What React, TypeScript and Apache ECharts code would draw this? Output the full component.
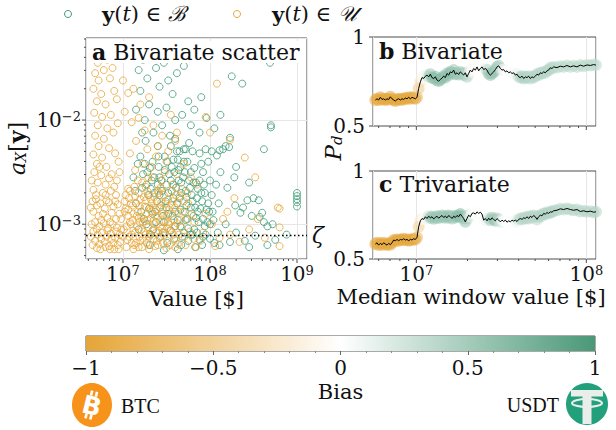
import React, { useEffect, useRef } from 'react';
import * as echarts from 'echarts';

const FONT = 'DejaVu Serif';
const INK = '#111111';
const FRAME = '#4d4d4d';
const GRIDLINE = '#e6e6e6';
const GREEN = '#3f9c77';
const ORANGE = '#e8a73a';
const BIAS_COLORS = ['#e5a537', '#ffffff', '#4a9877'];

// axis limits (log10) of panel a
const SCATTER_X_LOG = [6.575, 9.115];
const SCATTER_Y_LOG = [-3.334, -1.212];
const PANEL_X_LOG = [6.745, 8.057];

// Panel a: points as [log10(value in $), log10(a_X[y])]
const bivariateLog: number[][] = [
  [7.12,-2.55],[7.15,-2.80],[7.18,-3.05],[7.20,-2.35],[7.22,-2.65],[7.24,-2.95],[7.26,-2.20],[7.28,-2.50],[7.30,-2.85],[7.32,-3.10],
  [7.34,-2.40],[7.36,-2.70],[7.38,-2.98],[7.40,-2.25],[7.42,-2.55],[7.44,-2.82],[7.46,-3.08],[7.48,-2.35],[7.50,-2.62],[7.52,-2.90],
  [7.54,-2.15],[7.56,-2.45],[7.58,-2.75],[7.60,-3.02],[7.62,-2.30],[7.64,-2.58],[7.66,-2.86],[7.68,-3.12],[7.70,-2.40],[7.72,-2.68],
  [7.74,-2.95],[7.76,-2.22],[7.78,-2.50],[7.80,-2.78],[7.82,-3.05],[7.84,-2.60],[7.86,-2.88],[7.88,-3.15],[7.90,-2.70],[7.92,-2.95],
  [7.95,-3.10],[7.98,-2.80],[8.00,-3.00],[8.03,-2.88],[8.05,-3.18],
  [7.25,-2.42],[7.29,-2.72],[7.33,-2.58],[7.37,-2.88],[7.41,-2.45],[7.45,-2.68],[7.49,-2.78],[7.53,-2.52],[7.57,-2.92],[7.61,-2.65],
  [7.65,-2.75],[7.69,-2.55],[7.73,-2.82],[7.77,-2.65],[7.81,-2.92],[7.85,-2.75],[7.89,-2.85],[7.93,-2.62],[7.97,-2.98],[8.02,-2.72],
  [7.27,-3.00],[7.35,-3.05],[7.43,-3.12],[7.51,-3.18],[7.59,-3.14],[7.67,-3.20],[7.75,-3.16],[7.83,-3.22],[7.91,-3.20],[7.31,-3.20],
  [7.47,-3.25],[7.63,-3.24],
  [7.65,-2.30],[7.72,-2.28],[7.80,-2.30],[7.88,-2.32],[7.95,-2.28],[8.02,-2.30],[8.08,-2.34],[8.15,-2.28],[8.22,-2.26],[7.60,-2.18],
  [7.13,-1.40],[7.18,-1.52],[7.23,-1.42],[7.28,-1.60],[7.33,-1.38],[7.38,-1.50],[7.42,-1.68],[7.47,-1.45],[7.52,-1.62],[7.57,-1.75],
  [7.62,-1.55],[7.70,-1.48],[7.75,-1.82],[7.82,-1.90],[7.90,-1.78],[7.20,-1.72],[7.30,-1.85],[7.40,-1.92],[7.50,-1.88],[7.60,-2.00],
  [7.68,-1.95],[7.78,-2.05],[7.88,-2.12],[7.96,-1.98],[8.05,-2.08],[8.12,-1.95],[7.25,-2.00],[7.35,-2.12],[7.45,-2.05],[7.55,-2.25],
  [7.15,-1.90],[7.22,-2.12],[8.25,-1.58],[8.37,-1.65],[7.65,-1.35],[7.45,-1.30],[7.28,-1.30],
  [8.69,-1.45],[8.70,-2.05],[8.70,-2.07],[8.62,-2.28],[8.23,-2.17],[8.11,-2.29],[8.18,-2.25],[8.28,-2.55],[8.43,-2.77],[8.50,-2.75],
  [8.56,-2.77],[8.60,-2.89],[8.35,-2.89],[8.48,-2.92],[8.29,-2.82],[8.38,-2.84],[8.57,-2.93],[8.62,-2.98],[8.66,-3.02],[8.72,-3.00],
  [8.88,-3.10],[8.66,-3.20],[8.52,-3.11],[8.40,-3.16],[8.23,-3.17],[8.11,-3.20],[9.00,-2.70],[9.00,-2.73],[9.00,-2.76],[9.00,-2.79],
  [9.00,-2.83],[8.30,-2.45],[8.45,-2.60],[8.20,-2.65],[8.12,-2.50],[8.10,-2.80],[8.18,-3.00],[8.30,-3.08],[8.45,-3.22],[8.75,-3.15],
  [7.32,-2.66],[7.39,-2.78],[7.46,-2.92],[7.52,-2.70],[7.58,-2.62],[7.63,-2.96],[7.67,-2.70],[7.71,-2.88],[7.75,-3.04],[7.79,-2.72],
  [7.83,-2.84],[7.87,-2.98],[7.91,-2.78],[7.94,-3.02],[7.99,-2.88],[7.55,-3.06],[7.47,-2.98],[7.62,-2.80],[7.70,-3.08],[7.80,-3.10],
  [7.86,-2.66],[7.76,-2.58],[7.66,-2.45],[7.58,-2.38],[7.70,-2.28],[7.40,-2.62],[7.34,-2.90],[7.82,-2.46],[7.92,-2.50],[8.00,-2.58],
  [7.14,-2.68],[7.17,-2.42],[7.21,-2.88],[7.23,-2.52],[7.27,-2.62],[7.31,-2.46],[7.36,-2.55],[7.41,-2.35],[7.44,-2.58],[7.48,-2.48],
  [7.51,-2.40],[7.55,-2.58],[7.59,-2.50],[7.63,-2.38],[7.67,-2.60],[7.71,-2.50],[7.74,-2.40],[7.78,-2.84],[7.84,-2.94],[7.88,-2.58],
  [7.94,-2.70],[7.96,-2.86],[8.04,-2.96],[8.07,-2.62],[8.09,-3.08],[7.60,-2.88],[7.66,-3.02],[7.72,-2.96],[7.78,-3.10],[7.85,-3.08],
  [7.92,-3.12],[8.00,-3.14],[7.42,-2.72],[7.50,-2.84],[7.56,-2.68],[7.64,-2.48],[7.73,-2.74],[7.81,-2.60],[7.90,-2.42],[7.98,-2.40],
];

const uniformLog: number[][] = [
  [6.68,-1.30],[6.75,-1.36],[6.71,-1.45],[6.82,-1.42],[6.68,-1.55],[6.78,-1.52],[6.88,-1.50],[6.72,-1.62],[6.85,-1.60],[6.66,-1.70],
  [6.75,-1.75],[6.90,-1.72],[6.70,-1.82],[6.80,-1.85],[6.93,-1.80],[6.67,-1.93],[6.76,-1.97],[6.86,-1.95],[6.71,-2.05],[6.82,-2.08],
  [6.94,-2.03],[6.68,-2.15],[6.78,-2.18],[6.89,-2.12],[6.72,-2.25],[6.84,-2.27],[6.66,-2.33],[6.76,-2.36],[6.91,-2.32],[6.70,-2.42],
  [6.81,-2.45],[6.95,-2.40],[6.67,-2.50],[6.75,-2.53],[6.87,-2.52],[6.71,-2.60],[6.80,-2.62],[6.93,-2.58],[6.66,-2.67],[6.77,-2.70],
  [6.86,-2.68],
  [6.65,-2.78],[6.70,-2.82],[6.74,-2.80],[6.79,-2.85],[6.84,-2.79],[6.89,-2.83],[6.94,-2.81],[6.66,-2.88],[6.72,-2.92],[6.77,-2.90],
  [6.82,-2.94],[6.87,-2.89],[6.92,-2.95],[6.68,-2.98],[6.73,-3.02],[6.78,-2.99],[6.83,-3.04],[6.88,-3.00],[6.93,-3.03],[6.66,-3.07],
  [6.71,-3.10],[6.76,-3.08],[6.81,-3.12],[6.86,-3.09],[6.91,-3.13],[6.96,-3.10],[6.68,-3.16],[6.73,-3.19],[6.79,-3.17],[6.84,-3.21],
  [6.89,-3.18],[6.94,-3.20],[6.70,-3.23],[6.80,-3.22],[6.90,-3.24],
  [6.63,-2.84],[6.69,-2.76],[6.75,-2.96],[6.81,-2.77],[6.85,-2.98],[6.91,-2.78],[6.96,-2.90],[6.64,-3.00],[6.70,-3.05],[6.75,-3.14],
  [6.82,-3.06],[6.87,-3.14],[6.92,-3.07],[6.97,-3.17],[6.65,-3.20],[6.74,-3.24],[6.85,-3.24],[6.95,-3.24],[6.63,-3.12],[6.98,-3.05],
  [6.64,-2.58],[6.73,-2.45],[6.84,-2.56],[6.90,-2.64],[6.96,-2.50],[6.69,-2.72],[6.80,-2.72],[6.92,-2.72],
  [6.98,-2.95],[7.01,-3.05],[7.03,-2.85],[7.05,-3.15],[7.07,-2.75],[7.08,-2.98],[7.10,-3.10],[7.12,-2.90],[7.13,-3.20],[7.15,-2.80],
  [7.16,-3.02],[7.18,-2.70],[7.19,-3.12],[7.21,-2.93],[7.22,-2.60],[7.24,-3.07],[7.25,-2.83],[7.27,-3.18],[7.28,-2.96],[7.30,-2.72],
  [7.31,-3.09],[7.33,-2.88],[7.34,-2.55],[7.36,-3.00],[7.37,-3.21],[7.39,-2.78],[7.40,-2.92],[7.42,-3.13],[7.43,-2.65],[7.45,-3.04],
  [7.46,-2.86],[7.48,-2.50],[7.49,-2.97],[7.51,-3.16],[7.52,-2.76],[7.54,-3.06],[7.55,-2.90],[7.57,-2.62],[7.58,-3.10],[7.60,-2.84],
  [7.62,-2.99],[7.63,-3.19],[7.65,-2.73],[7.67,-3.03],[7.69,-2.88],[7.71,-3.12],[7.73,-2.95],[7.75,-2.80],[7.77,-3.07],
  [7.02,-2.78],[7.06,-2.92],[7.09,-3.00],[7.11,-2.82],[7.14,-3.08],[7.17,-2.88],[7.20,-3.16],[7.23,-2.98],[7.26,-2.77],[7.29,-3.03],
  [7.32,-2.94],[7.35,-3.14],[7.38,-2.86],[7.41,-3.06],[7.44,-2.79],[7.47,-3.11],[7.50,-2.92],[7.53,-3.00],[7.04,-3.22],[7.12,-3.24],
  [7.22,-3.22],[7.30,-3.24],[7.40,-3.20],[7.50,-3.23],[7.60,-3.22],[7.08,-2.68],[7.17,-2.58],[7.26,-2.64],[7.33,-2.45],[7.41,-2.70],
  [7.50,-2.40],[7.56,-2.68],[7.62,-2.52],[7.68,-2.66],[7.14,-2.48],[7.23,-2.42],[7.29,-2.55],[7.38,-2.35],[7.45,-2.58],
  [7.03,-2.72],[7.07,-3.12],[7.11,-2.96],[7.15,-3.18],[7.19,-2.83],[7.21,-3.05],[7.24,-2.74],[7.27,-2.90],[7.30,-3.12],[7.33,-2.80],
  [7.35,-2.97],[7.38,-3.08],[7.42,-2.84],[7.44,-2.98],[7.47,-2.72],[7.51,-3.04],[7.55,-2.82],[7.58,-2.96],[7.61,-3.14],[7.64,-2.88],
  [7.10,-3.18],[7.18,-2.94],[7.26,-3.10],[7.36,-2.74],[7.46,-3.18],[7.56,-3.08],[7.06,-2.86],[7.14,-2.73],[7.31,-2.84],[7.39,-3.16],
  [7.00,-3.12],[7.02,-2.88],[7.04,-3.02],[7.06,-2.66],[7.09,-2.80],[7.12,-3.06],[7.13,-2.64],[7.16,-2.92],[7.18,-3.22],[7.20,-2.76],
  [7.23,-3.14],[7.25,-2.97],[7.28,-2.68],[7.29,-3.20],[7.32,-2.76],[7.34,-3.06],[7.37,-2.92],[7.40,-2.68],[7.43,-3.02],[7.45,-2.90],
  [7.48,-3.08],[7.49,-2.80],[7.52,-2.98],[7.54,-3.20],[7.57,-2.78],[7.59,-3.02],[7.61,-2.72],[7.64,-3.10],[7.66,-2.96],[7.70,-2.78],
  [7.72,-3.20],[7.74,-2.70],[7.79,-2.90],[7.81,-3.14],[7.19,-2.98],[7.27,-2.84],[7.35,-2.84],[7.44,-2.66],[7.53,-2.86],[7.63,-2.80],
  [7.05,-1.30],[7.16,-1.28],[7.26,-1.32],[7.22,-1.40],[7.40,-1.30],[7.00,-1.62],[7.06,-1.74],[7.12,-1.70],[7.20,-1.85],[7.30,-1.78],
  [7.02,-1.92],[7.10,-2.02],[7.18,-1.98],[7.25,-2.10],[7.35,-2.05],[7.45,-2.15],[7.15,-2.20],[7.28,-2.28],[7.40,-2.25],[7.52,-2.30],
  [7.60,-2.20],[7.08,-2.32],[7.70,-2.42],[7.78,-2.55],[7.85,-2.62],[7.55,-1.95],[7.62,-2.12],
  [8.08,-1.65],[7.95,-1.97],[8.00,-2.12],[8.23,-2.19],[8.40,-2.36],[8.52,-2.55],[8.80,-2.85],[8.28,-2.75],[8.78,-2.84],[8.80,-3.03],
  [8.23,-3.10],[8.34,-3.17],[8.63,-3.13],[8.80,-3.21],[8.06,-3.21],[8.11,-3.13],[7.89,-3.16],[7.84,-3.22],[7.95,-2.90],[8.15,-2.95],
  [8.45,-3.05],[7.92,-3.08],[8.02,-3.00],[7.82,-2.98],[8.20,-2.88],[8.55,-2.95],
];

const zeta = 7.8e-4;

// Panels b and c: median window value (millions of $), P_d and bias per window
const windowValueM = [
  5.74,5.87,6.00,6.14,6.28,6.42,6.57,6.72,6.88,7.03,
  7.19,7.36,7.52,7.70,7.87,8.05,8.24,8.42,8.62,8.81,
  9.02,9.22,9.43,9.65,9.87,10.09,10.32,10.56,10.80,11.05,
  11.30,11.55,11.82,12.09,12.36,12.65,12.94,13.23,13.53,13.84,
  14.16,14.48,14.81,15.15,15.50,15.85,16.21,16.58,16.96,17.35,
  17.74,18.15,18.56,18.98,19.42,19.86,20.31,20.78,21.25,21.74,
  22.24,22.75,23.27,23.80,24.34,24.90,25.47,26.05,26.65,27.26,
  27.88,28.51,29.17,29.83,30.51,31.21,31.92,32.65,33.40,34.16,
  34.94,35.74,36.55,37.39,38.24,39.11,40.00,40.91,41.85,42.80,
  43.78,44.77,45.80,46.84,47.91,49.00,50.12,51.26,52.43,53.63,
  54.85,56.10,57.38,58.69,60.02,61.39,62.80,64.23,
  67.20,70.30,73.55,76.95,80.50,84.22,88.11,92.18,96.45,100.9,105.6,110.4,
  114.0,
];

const pdBivariate = [
  0.646,0.653,0.646,0.661,0.649,0.653,0.646,0.653,0.649,0.664,
  0.653,0.646,0.640,0.649,0.653,0.646,0.653,0.649,0.657,0.653,
  0.661,0.653,0.661,0.657,0.653,0.661,0.711,0.748,0.772,0.767,
  0.780,0.786,0.776,0.791,0.772,0.767,0.776,0.758,0.752,0.761,
  0.769,0.780,0.772,0.795,0.786,0.804,0.799,0.814,0.791,0.799,
  0.789,0.804,0.795,0.786,0.799,0.776,0.795,0.814,0.804,0.823,
  0.814,0.832,0.810,0.823,0.832,0.817,0.823,0.814,0.795,0.786,
  0.795,0.804,0.817,0.832,0.838,0.823,0.814,0.817,0.804,0.810,
  0.799,0.804,0.795,0.799,0.786,0.791,0.776,0.772,0.780,0.767,
  0.776,0.772,0.780,0.767,0.776,0.772,0.780,0.791,0.786,0.799,
  0.795,0.804,0.799,0.810,0.814,0.827,0.823,0.832,
  0.828,0.836,0.832,0.840,0.832,0.838,0.832,0.842,0.836,0.843,0.840,0.845,
  0.842,
];

const pdTrivariate = [
  0.585,0.592,0.579,0.589,0.581,0.592,0.585,0.579,0.589,0.581,
  0.592,0.608,0.604,0.611,0.604,0.611,0.608,0.615,0.608,0.611,
  0.604,0.611,0.608,0.615,0.611,0.623,0.683,0.717,0.730,0.725,
  0.740,0.730,0.743,0.734,0.740,0.728,0.736,0.743,0.732,0.740,
  0.747,0.736,0.743,0.734,0.747,0.740,0.730,0.743,0.736,0.747,
  0.740,0.755,0.743,0.730,0.711,0.730,0.749,0.740,0.759,0.762,
  0.755,0.768,0.759,0.766,0.755,0.721,0.730,0.717,0.732,0.721,
  0.734,0.725,0.717,0.730,0.721,0.711,0.721,0.713,0.721,0.709,
  0.717,0.711,0.721,0.715,0.721,0.713,0.725,0.730,0.725,0.734,
  0.730,0.740,0.730,0.743,0.736,0.747,0.740,0.725,0.740,0.749,
  0.745,0.759,0.755,0.764,0.759,0.768,0.766,0.774,
  0.777,0.785,0.781,0.787,0.781,0.777,0.781,0.770,0.774,0.768,0.772,0.766,
  0.768,
];

const biasBivariate = [
  -0.95,-0.95,-0.95,-0.95,-0.95,-0.95,-0.95,-0.95,-0.95,-0.95,
  -0.95,-0.95,-0.95,-0.95,-0.95,-0.95,-0.95,-0.95,-0.95,-0.95,
  -0.95,-0.95,-0.95,-0.95,-0.95,-0.8,-0.6,-0.35,-0.15,-0.05,
  0.05,0.15,0.3,0.55,0.6,0.6,0.65,0.6,0.6,0.65,
  0.6,0.65,0.6,0.55,0.6,0.65,0.6,0.55,0.6,0.55,
  0.55,0.5,0.55,0.5,0.45,0.45,0.3,0.05,0,-0.05,
  -0.05,-0.03,0,0.02,0,-0.03,0.1,0.4,0.55,0.57,
  0.6,0.57,0.55,0.53,0.5,0.4,0.2,0.05,0.02,0,
  0,0.02,0.05,0.03,0.05,0.1,0.25,0.4,0.45,0.45,
  0.45,0.42,0.4,0.4,0.4,0.38,0.4,0.4,0.38,0.4,
  0.4,0.38,0.4,0.38,0.4,0.38,0.4,0.38,
  0.38,0.36,0.38,0.36,0.38,0.36,0.38,0.36,0.38,0.36,0.38,0.36,
  0.36,
];

const biasTrivariate = [
  -0.95,-0.95,-0.95,-0.95,-0.95,-0.95,-0.95,-0.95,-0.95,-0.95,
  -0.95,-0.95,-0.95,-0.95,-0.95,-0.95,-0.95,-0.95,-0.95,-0.95,
  -0.95,-0.95,-0.95,-0.95,-0.95,-0.8,-0.55,-0.3,-0.15,-0.05,
  0.02,0.1,0.25,0.5,0.55,0.55,0.57,0.55,0.53,0.55,
  0.57,0.55,0.53,0.55,0.57,0.6,0.55,0.5,0.55,0.6,
  0.65,0.65,0.63,0.6,0.55,0.5,0.35,0.1,0.05,0.02,
  0,0.02,0.05,0.02,0,0.03,0.05,0.1,0.25,0.5,
  0.55,0.55,0.53,0.5,0.4,0.25,0.1,0.03,0,0,
  0,0.02,0,0.03,0.05,0.1,0.25,0.35,0.38,0.4,
  0.4,0.38,0.4,0.4,0.38,0.4,0.4,0.38,0.4,0.4,
  0.42,0.42,0.4,0.42,0.42,0.4,0.42,0.4,
  0.4,0.4,0.38,0.4,0.38,0.4,0.38,0.4,0.38,0.4,0.38,0.4,
  0.4,
];

// tick positions
const scatterXMajor = [1e7, 1e8, 1e9];
const scatterXMinor = [4e6,5e6,6e6,7e6,8e6,9e6,2e7,3e7,4e7,5e7,6e7,7e7,8e7,9e7,2e8,3e8,4e8,5e8,6e8,7e8,8e8,9e8];
const scatterYMajor = [1e-3, 1e-2];
const scatterYMinor = [5e-4,6e-4,7e-4,8e-4,9e-4,2e-3,3e-3,4e-3,5e-3,6e-3,7e-3,8e-3,9e-3,2e-2,3e-2,4e-2,5e-2,6e-2];
const panelXMajor = [1e7, 1e8];
const panelXMinor = [6e6,7e6,8e6,9e6,2e7,3e7,4e7,5e7,6e7,7e7,8e7,9e7];
const panelYMajor = [0.5, 1];

const supLabel = (v: number) => {
  const e = Math.log10(v);
  const r = Math.round(e);
  if (Math.abs(e - r) > 1e-6) return '';
  return `{b|10}{s|${r < 0 ? '\u2212' + -r : r}}`;
};
const supRich = {
  b: { fontFamily: FONT, fontSize: 20, lineHeight: 20, padding: [3, 0, 0, 0], verticalAlign: 'bottom', color: INK },
  s: { fontFamily: FONT, fontSize: 13, lineHeight: 13, verticalAlign: 'top', color: INK },
};

function xTicks(idx: number, values: number[], len: number, refY: number) {
  return {
    type: 'custom', xAxisIndex: idx, yAxisIndex: idx, silent: true, z: 6, clip: false,
    data: values.map((v) => [v, refY]),
    renderItem: (params: any, api: any) => {
      const cs = params.coordSys;
      const x = api.coord([api.value(0), api.value(1)])[0];
      const y0 = cs.y + cs.height;
      return { type: 'line', shape: { x1: x, y1: y0, x2: x, y2: y0 + len }, style: { stroke: FRAME, lineWidth: 1 } };
    },
  };
}
function yTicks(idx: number, values: number[], len: number, refX: number) {
  return {
    type: 'custom', xAxisIndex: idx, yAxisIndex: idx, silent: true, z: 6, clip: false,
    data: values.map((v) => [refX, v]),
    renderItem: (params: any, api: any) => {
      const cs = params.coordSys;
      const y = api.coord([api.value(0), api.value(1)])[1];
      return { type: 'line', shape: { x1: cs.x - len, y1: y, x2: cs.x, y2: y }, style: { stroke: FRAME, lineWidth: 1 } };
    },
  };
}

const gridBase = { show: true, borderColor: FRAME, borderWidth: 1, backgroundColor: 'transparent', containLabel: false, outerBoundsMode: 'none' };

function logXAxis(idx: number, lim: number[], showLabels: boolean) {
  return {
    type: 'log', logBase: 10, gridIndex: idx, min: Math.pow(10, lim[0]), max: Math.pow(10, lim[1]),
    axisLine: { show: false }, axisTick: { show: false },
    splitLine: { show: true, lineStyle: { color: GRIDLINE, width: 1 } },
    axisLabel: { show: showLabels, formatter: supLabel, rich: supRich, margin: 5, showMinLabel: false, showMaxLabel: false },
  };
}

export default function App() {
  const ref = useRef<HTMLDivElement>(null);
  useEffect(() => {
    if (!ref.current) return;
    const chart = echarts.init(ref.current, undefined, { renderer: 'svg' });
    const biasGradient = new echarts.graphic.LinearGradient(0, 0, 1, 0, [
      { offset: 0, color: BIAS_COLORS[0] },
      { offset: 0.5, color: BIAS_COLORS[1] },
      { offset: 1, color: BIAS_COLORS[2] },
    ]);
    const titleStyle = (size: number) => ({
      fontFamily: FONT, fontSize: size, color: INK, fontWeight: 'normal',
      rich: { b: { fontFamily: FONT, fontSize: size, fontWeight: 'bold', color: INK } },
    });
    const option: any = {
      animation: false,
      backgroundColor: '#ffffff',
      textStyle: { fontFamily: FONT, color: INK },
      title: [
        { text: '{b|a} Bivariate scatter', left: 90, top: 41, padding: [0, 2, 0, 2], backgroundColor: '#ffffff', textStyle: titleStyle(22) },
        { text: '{b|b} Bivariate', left: 377, top: 40, padding: [0, 2, 0, 2], textStyle: titleStyle(22) },
        { text: '{b|c} Trivariate', left: 377, top: 173, padding: [0, 2, 0, 2], textStyle: titleStyle(22) },
      ],
      grid: [
        { ...gridBase, left: 86, top: 38, width: 221, height: 221 },
        { ...gridBase, left: 373, top: 37, width: 223, height: 89 },
        { ...gridBase, left: 373, top: 171, width: 223, height: 88 },
        { ...gridBase, left: 86, top: 336, width: 509, height: 15, borderColor: '#555' },
      ],
      xAxis: [
        {
          ...logXAxis(0, SCATTER_X_LOG, true),
          name: 'Value [$]', nameLocation: 'middle', nameGap: 28,
          nameTextStyle: { fontFamily: FONT, fontSize: 21, color: INK },
        },
        logXAxis(1, PANEL_X_LOG, false),
        logXAxis(2, PANEL_X_LOG, true),
        {
          type: 'value', gridIndex: 3, min: -1, max: 1, interval: 0.5,
          axisLine: { show: false },
          axisTick: { show: true, length: 4, lineStyle: { color: '#666' } },
          minorTick: { show: true, splitNumber: 5, length: 2, lineStyle: { color: '#888' } },
          splitLine: { show: false },
          axisLabel: {
            margin: 6, fontFamily: FONT, fontSize: 20, color: INK, lineHeight: 22,
            formatter: (v: number) => (v < 0 ? '\u2212' : '') + Math.abs(v),
          },
          name: 'Bias', nameLocation: 'middle', nameGap: 30,
          nameTextStyle: { fontFamily: FONT, fontSize: 21, color: INK },
        },
      ],
      yAxis: [
        {
          type: 'log', logBase: 10, gridIndex: 0, min: Math.pow(10, SCATTER_Y_LOG[0]), max: Math.pow(10, SCATTER_Y_LOG[1]),
          axisLine: { show: false }, axisTick: { show: false },
          splitLine: { show: true, lineStyle: { color: GRIDLINE, width: 1 } },
          axisLabel: { formatter: supLabel, rich: supRich, margin: 5, showMinLabel: false, showMaxLabel: false },
          name: '{i|a}{sub|X}{n|[}{bb|y}{n|]}', nameLocation: 'middle', nameGap: 52,
          nameTextStyle: {
            fontFamily: FONT, fontSize: 22, color: INK,
            rich: {
              i: { fontFamily: FONT, fontSize: 22, fontStyle: 'italic', lineHeight: 22, padding: [0, 0, 4, 0], verticalAlign: 'top', color: INK },
              sub: { fontFamily: FONT, fontSize: 14, fontStyle: 'italic', lineHeight: 14, verticalAlign: 'bottom', color: INK },
              n: { fontFamily: FONT, fontSize: 22, lineHeight: 22, verticalAlign: 'top', color: INK },
              bb: { fontFamily: FONT, fontSize: 22, fontWeight: 'bold', lineHeight: 22, verticalAlign: 'top', color: INK },
            },
          },
        },
        ...[1, 2].map((g) => ({
          type: 'value', gridIndex: g, min: 0.5, max: 1, interval: 0.5,
          axisLine: { show: false }, axisTick: { show: false },
          splitLine: { show: false },
          axisLabel: { margin: 8, fontFamily: FONT, fontSize: 20, color: INK, formatter: (v: number) => (v === 1 ? '1' : v === 0.5 ? '0.5' : '') },
        })),
        { type: 'value', gridIndex: 3, min: 0, max: 1, show: false },
      ],
      visualMap: {
        type: 'continuous', show: false, dimension: 2, min: -1, max: 1,
        seriesIndex: [2, 4], inRange: { color: BIAS_COLORS },
      },
      series: [
        {
          type: 'scatter', name: 'B', xAxisIndex: 0, yAxisIndex: 0, silent: true, z: 2,
          data: bivariateLog.map(([lx, ly]) => [Math.pow(10, lx), Math.pow(10, ly)]),
          symbol: 'circle', symbolSize: 7,
          itemStyle: { color: 'rgba(0,0,0,0)', borderColor: GREEN, borderWidth: 0.9, opacity: 0.9 },
        },
        {
          type: 'scatter', name: 'U', xAxisIndex: 0, yAxisIndex: 0, silent: true, z: 3,
          data: uniformLog.map(([lx, ly]) => [Math.pow(10, lx), Math.pow(10, ly)]),
          symbol: 'circle', symbolSize: 7,
          itemStyle: { color: 'rgba(0,0,0,0)', borderColor: ORANGE, borderWidth: 0.9, opacity: 0.9 },
        },
        {
          type: 'scatter', xAxisIndex: 1, yAxisIndex: 1, silent: true, z: 1,
          data: windowValueM.map((v, i) => [v * 1e6, pdBivariate[i], biasBivariate[i]]),
          symbol: 'circle', symbolSize: 12, itemStyle: { opacity: 0.55 },
        },
        {
          type: 'line', xAxisIndex: 1, yAxisIndex: 1, silent: true, z: 3,
          data: windowValueM.map((v, i) => [v * 1e6, pdBivariate[i]]),
          symbol: 'none', lineStyle: { color: '#000', width: 1 },
        },
        {
          type: 'scatter', xAxisIndex: 2, yAxisIndex: 2, silent: true, z: 1,
          data: windowValueM.map((v, i) => [v * 1e6, pdTrivariate[i], biasTrivariate[i]]),
          symbol: 'circle', symbolSize: 12, itemStyle: { opacity: 0.55 },
        },
        {
          type: 'line', xAxisIndex: 2, yAxisIndex: 2, silent: true, z: 3,
          data: windowValueM.map((v, i) => [v * 1e6, pdTrivariate[i]]),
          symbol: 'none', lineStyle: { color: '#000', width: 1 },
        },
        {
          type: 'custom', xAxisIndex: 3, yAxisIndex: 3, silent: true, z: 1,
          data: [[-1, 0, 1, 1]],
          renderItem: (params: any, api: any) => {
            const p0 = api.coord([api.value(0), api.value(3)]);
            const p1 = api.coord([api.value(2), api.value(1)]);
            return { type: 'rect', shape: { x: p0[0], y: p0[1], width: p1[0] - p0[0], height: p1[1] - p0[1] }, style: { fill: biasGradient } };
          },
        },
        {
          type: 'line', xAxisIndex: 0, yAxisIndex: 0, silent: true, z: 5,
          data: [[Math.pow(10, SCATTER_X_LOG[0]), zeta], [Math.pow(10, SCATTER_X_LOG[1]), zeta]],
          symbol: 'none', lineStyle: { color: '#000', type: [1.5, 2.5], width: 1.5 },
          endLabel: { show: true, formatter: '\u03b6', fontFamily: FONT, fontStyle: 'italic', fontSize: 22, color: INK, distance: 5 },
        },
        xTicks(0, scatterXMajor, 4, 1e-3),
        xTicks(0, scatterXMinor, 2, 1e-3),
        yTicks(0, scatterYMajor, 4, 1e8),
        yTicks(0, scatterYMinor, 2, 1e8),
        xTicks(1, panelXMajor, 4, 0.75),
        xTicks(1, panelXMinor, 2, 0.75),
        xTicks(2, panelXMajor, 4, 0.75),
        xTicks(2, panelXMinor, 2, 0.75),
        yTicks(1, panelYMajor, 4, 2e7),
        yTicks(2, panelYMajor, 4, 2e7),
      ],
      graphic: [
        { type: 'circle', shape: { cx: 68, cy: 14, r: 3.5 }, style: { fill: 'none', stroke: GREEN, lineWidth: 1 } },
        {
          type: 'text', x: 102, y: 14,
          style: {
            text: '{yb|y}({it|t}) \u2208 {cal|\u212c}', fontFamily: FONT, fontSize: 21, fill: INK,
            align: 'left', verticalAlign: 'middle', textAlign: 'left', textVerticalAlign: 'middle',
            rich: {
              yb: { fontFamily: FONT, fontSize: 21, fontWeight: 'bold' },
              it: { fontFamily: FONT, fontSize: 21, fontStyle: 'italic' },
              cal: { fontFamily: FONT, fontSize: 21, fontStyle: 'italic' },
            },
          },
        },
        { type: 'circle', shape: { cx: 237, cy: 14, r: 3.5 }, style: { fill: 'none', stroke: ORANGE, lineWidth: 1 } },
        {
          type: 'text', x: 272, y: 14,
          style: {
            text: '{yb|y}({it|t}) \u2208 {cal|\ud835\udcb0}', fontFamily: FONT, fontSize: 21, fill: INK,
            align: 'left', verticalAlign: 'middle', textAlign: 'left', textVerticalAlign: 'middle',
            rich: {
              yb: { fontFamily: FONT, fontSize: 21, fontWeight: 'bold' },
              it: { fontFamily: FONT, fontSize: 21, fontStyle: 'italic' },
              cal: { fontFamily: FONT, fontSize: 21, fontStyle: 'italic' },
            },
          },
        },
        {
          type: 'text', x: 333, y: 148, rotation: Math.PI / 2,
          style: {
            text: '{p|P}{d|d}', fill: INK, fontFamily: FONT, fontSize: 22,
            align: 'center', verticalAlign: 'middle', textAlign: 'center', textVerticalAlign: 'middle',
            rich: {
              p: { fontFamily: FONT, fontSize: 23, fontStyle: 'italic', lineHeight: 23, padding: [0, 0, 5, 0], verticalAlign: 'top' },
              d: { fontFamily: FONT, fontSize: 15, fontStyle: 'italic', lineHeight: 15, verticalAlign: 'bottom' },
            },
          },
        },
        {
          type: 'text', x: 471, y: 297,
          style: {
            text: 'Median window value [$]', fill: INK, fontFamily: FONT, fontSize: 21,
            align: 'center', verticalAlign: 'middle', textAlign: 'center', textVerticalAlign: 'middle',
          },
        },
        // BTC logo
        { type: 'ellipse', shape: { cx: 92, cy: 405, rx: 20, ry: 22 }, style: { fill: '#f7931a' } },
        {
          type: 'group', x: 92, y: 405, rotation: -0.24,
          children: [
            { type: 'text', x: 0, y: 1, style: { text: 'B', fill: '#ffffff', fontFamily: 'DejaVu Sans', fontWeight: 'bold', fontSize: 25, align: 'center', verticalAlign: 'middle', textAlign: 'center', textVerticalAlign: 'middle' } },
            { type: 'rect', shape: { x: -4.5, y: -14, width: 2.6, height: 5 }, style: { fill: '#ffffff' } },
            { type: 'rect', shape: { x: 0.5, y: -14, width: 2.6, height: 5 }, style: { fill: '#ffffff' } },
            { type: 'rect', shape: { x: -4.5, y: 9.5, width: 2.6, height: 5 }, style: { fill: '#ffffff' } },
            { type: 'rect', shape: { x: 0.5, y: 9.5, width: 2.6, height: 5 }, style: { fill: '#ffffff' } },
          ],
        },
        { type: 'text', x: 121, y: 406, style: { text: 'BTC', fill: INK, fontFamily: 'Liberation Serif', fontSize: 20, align: 'left', verticalAlign: 'middle', textAlign: 'left', textVerticalAlign: 'middle' } },
        // USDT logo
        { type: 'circle', shape: { cx: 587, cy: 404, r: 21 }, style: { fill: '#22a07b' } },
        { type: 'rect', shape: { x: 571, y: 390, width: 32, height: 6.5 }, style: { fill: '#e9eeea' } },
        { type: 'rect', shape: { x: 582.5, y: 395, width: 9, height: 29 }, style: { fill: '#e9eeea' } },
        { type: 'ellipse', shape: { cx: 587, cy: 403, rx: 15, ry: 4 }, style: { fill: 'none', stroke: '#e9eeea', lineWidth: 2 } },
        { type: 'text', x: 559, y: 405, style: { text: 'USDT', fill: INK, fontFamily: 'Liberation Serif', fontSize: 20, align: 'right', verticalAlign: 'middle', textAlign: 'right', textVerticalAlign: 'middle' } },
      ],
    };
    chart.setOption(option);
    return () => chart.dispose();
  }, []);
  return <div ref={ref} style={{ position: 'fixed', left: 0, top: 0, width: 616, height: 430, background: '#fff' }} />;
}
